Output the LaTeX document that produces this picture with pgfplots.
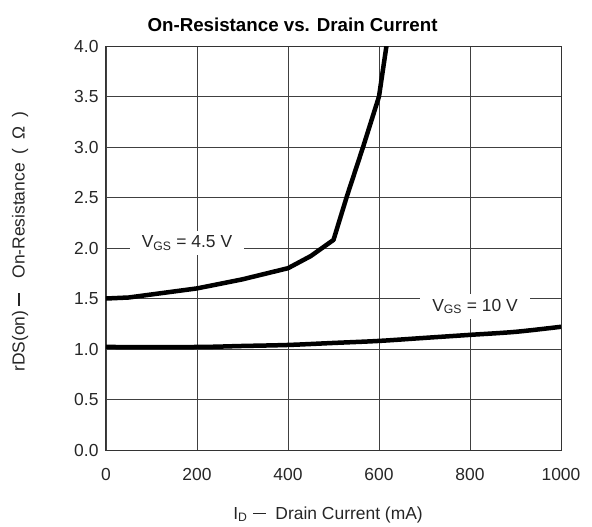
\documentclass[border=0pt]{standalone}
\usepackage{fontspec}
\setmainfont{Liberation Sans}
\usepackage{pgfplots}
\pgfplotsset{compat=1.18}
\newcommand{\ldash}{\raisebox{0.28em}{\rule{13bp}{1.2bp}}}
\begin{document}
\begin{tikzpicture}
\begin{axis}[
  scale only axis, width=455bp, height=404bp,
  xmin=0, xmax=1000, ymin=0, ymax=4,
  xtick={0,200,400,600,800,1000},
  ytick={0,0.5,1,1.5,2,2.5,3,3.5,4},
  /pgf/number format/assume math mode=true,
  yticklabel style={/pgf/number format/.cd, fixed, fixed zerofill, precision=1, assume math mode=true, /tikz/.cd, xshift=-4bp},
  xticklabel style={/pgf/number format/.cd, fixed, 1000 sep={}, assume math mode=true, /tikz/.cd, yshift=-15bp},
  grid=major,
  major grid style={black!75, line width=0.9bp},
  axis line style={black!80, line width=1bp},
  tick style={draw=none},
  tick label style={font=\fontsize{17.5}{20}\selectfont, text=black!85},
  title={On-Resistance vs. Drain Current},
  title style={font=\fontsize{18.8}{22}\selectfont\bfseries, at={(axis description cs:0.41,1)}, anchor=base, yshift=9bp},
  xlabel={I\textsubscript{D}\hspace{6bp}\ldash\hspace{9bp}Drain Current (mA)},
  ylabel={rDS(on)\hspace{5bp}\ldash\hspace{14bp}On-Resistance\hspace{9bp}(\hspace{9bp}Ω\hspace{9bp})},
  label style={font=\fontsize{17.5}{20}\selectfont, text=black!85},
  xlabel style={at={(axis description cs:0.488,-0.171)}, anchor=base},
  ylabel style={at={(axis description cs:-0.189,0.516)}, anchor=center},
  clip=true,
]
\addplot[black, line width=4.5bp, line join=round] coordinates {
 (0,1.50) (50,1.51) (100,1.54) (200,1.60) (300,1.69) (400,1.80) (450,1.92) (500,2.08) (530,2.52) (565,3.0) (600,3.5) (618,4.05)
};
\addplot[black, line width=4.5bp, smooth] coordinates {
 (0,1.02) (200,1.02) (300,1.03) (400,1.04) (500,1.06) (600,1.08) (700,1.11) (800,1.14) (900,1.17) (1000,1.22)
};
\node[fill=white, inner xsep=12bp, inner ysep=5bp, font=\fontsize{17.5}{20}\selectfont, text=black!85] at (axis cs:178,2.05) {V\textsubscript{GS} = 4.5 V};
\node[fill=white, inner xsep=12bp, inner ysep=5bp, font=\fontsize{17.5}{20}\selectfont, text=black!85] at (axis cs:811,1.42) {V\textsubscript{GS} = 10 V};
\end{axis}
\path[use as bounding box] (-106bp,-76bp) rectangle (486bp,450bp);
\end{tikzpicture}
\end{document}
